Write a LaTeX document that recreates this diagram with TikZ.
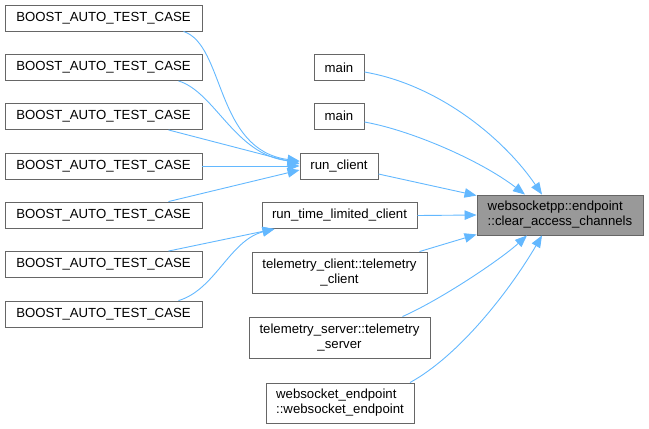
\documentclass[tikz,border=0pt]{standalone}
\usepackage{fontspec}
\setmainfont{Liberation Sans}
\usetikzlibrary{arrows.meta}
\definecolor{edgeblue}{HTML}{63B8FF}
\definecolor{boxgray}{HTML}{666666}
\definecolor{tgfill}{HTML}{999999}
\begin{document}
\begin{tikzpicture}[x=1pt,y=-1pt,
  box/.style={draw=boxgray, line width=0.9pt, fill=white, inner sep=0pt, font=\fontsize{13.2}{15}\selectfont},
  target/.style={box, fill=tgfill},
  edge/.style={draw=edgeblue, line width=0.9pt, -{Triangle[length=12pt,width=9.5pt]}}]
\useasboundingbox (0,0) rectangle (649,429);
% left column
\node[box, minimum width=197pt, minimum height=26pt] (b1) at (103.5,18) {BOOST\_AUTO\_TEST\_CASE};
\node[box, minimum width=197pt, minimum height=26pt] (b2) at (103.5,67.5) {BOOST\_AUTO\_TEST\_CASE};
\node[box, minimum width=197pt, minimum height=26pt] (b3) at (103.5,116.5) {BOOST\_AUTO\_TEST\_CASE};
\node[box, minimum width=197pt, minimum height=26pt] (b4) at (103.5,166) {BOOST\_AUTO\_TEST\_CASE};
\node[box, minimum width=197pt, minimum height=26pt] (b5) at (103.5,215) {BOOST\_AUTO\_TEST\_CASE};
\node[box, minimum width=197pt, minimum height=26pt] (b6) at (103.5,264.5) {BOOST\_AUTO\_TEST\_CASE};
\node[box, minimum width=197pt, minimum height=26pt] (b7) at (103.5,314) {BOOST\_AUTO\_TEST\_CASE};
% middle column
\node[box, minimum width=50pt, minimum height=26pt] (m1) at (339,67.5) {main};
\node[box, minimum width=50pt, minimum height=26pt] (m2) at (339,116) {main};
\node[box, minimum width=78pt, minimum height=26pt] (rc) at (339,166) {run\_client};
\node[box, minimum width=155pt, minimum height=26pt] (rt) at (339.5,215.5) {run\_time\_limited\_client};
\node[box, minimum width=175pt, minimum height=41pt, align=center] (tc) at (339.5,272.5) {telemetry\_client::telemetry\\\_client};
\node[box, minimum width=181pt, minimum height=41pt, align=center] (ts) at (339.5,337.5) {telemetry\_server::telemetry\\\_server};
\node[box, minimum width=148pt, minimum height=40pt, align=left] (we) at (340,403) {websocket\_endpoint\\::websocket\_endpoint};
% target
\node[target, minimum width=166pt, minimum height=40pt, align=left] (tg) at (560,215) {websocketpp::endpoint\\::clear\_access\_channels};
% edges into run_client
\draw[edge] ([xshift=80pt]b1.south) .. controls (225,45) and (215,150) .. ([yshift=5pt]rc.west);
\draw[edge] ([xshift=75pt]b2.south) .. controls (215,92) and (235,155) .. ([yshift=4pt]rc.west);
\draw[edge] ([xshift=65pt]b3.south) -- ([yshift=2pt]rc.west);
\draw[edge] (b4.east) -- (rc.west);
\draw[edge] ([xshift=65pt]b5.north) -- ([yshift=-4pt]rc.west);
% edges into run_time_limited_client
\draw[edge] ([xshift=65pt]b6.north) -- ([xshift=13pt]rt.south west);
\draw[edge] ([xshift=75pt]b7.north) .. controls (215,290) and (230,240) .. ([xshift=13pt]rt.south west);
% edges into target
\draw[edge] ([yshift=-4.5pt]m1.east) .. controls (440,85) and (505,140) .. ([xshift=-18pt]tg.north);
\draw[edge] ([yshift=-6pt]m2.east) .. controls (410,130) and (480,160) .. ([xshift=-35pt]tg.north);
\draw[edge] ([yshift=-8pt]rc.east) -- ([yshift=-1pt]tg.north west);
\draw[edge] (rt.east) -- (tg.west);
\draw[edge] ([xshift=80pt]tc.north) -- ([yshift=1pt]tg.south west);
\draw[edge] ([xshift=63pt]ts.north) .. controls (440,300) and (500,260) .. ([xshift=-33pt]tg.south);
\draw[edge] ([xshift=70pt]we.north) .. controls (460,355) and (510,290) .. ([xshift=-18pt]tg.south);
\end{tikzpicture}
\end{document}
